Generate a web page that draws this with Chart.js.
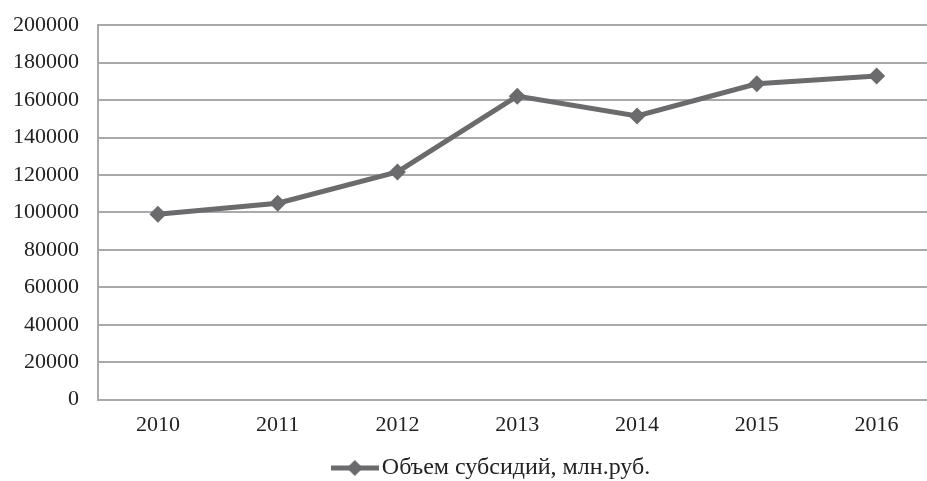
<!DOCTYPE html>
<html>
<head>
<meta charset="utf-8">
<script src="https://cdn.jsdelivr.net/npm/chart.js@4"></script>
<style>
  html, body { margin: 0; padding: 0; background: #fff; overflow: hidden; }
  #wrap { position: relative; top: -7px; width: 945px; height: 497px; }
</style>
</head>
<body>
<div id="wrap"><canvas id="chart"></canvas></div>
<script>
// data
const years = ['2010', '2011', '2012', '2013', '2014', '2015', '2016'];
const subsidies = [99000, 104900, 121600, 162100, 151500, 168700, 172800];
const seriesName = 'Объем субсидий, млн.руб.';
const yTicks = [0, 20000, 40000, 60000, 80000, 100000, 120000, 140000, 160000, 180000, 200000];

const lineColor = '#6b6b6d';
const gridColor = '#a9a9ab';
const fontFamily = '"Liberation Serif", "Times New Roman", serif';

// legend symbol: line with a diamond in the middle
function legendSymbol() {
    const c = document.createElement('canvas');
    c.width = 48;
    c.height = 18;
    const ctx = c.getContext('2d');
    ctx.strokeStyle = lineColor;
    ctx.lineWidth = 5;
    ctx.beginPath();
    ctx.moveTo(0, 9);
    ctx.lineTo(48, 9);
    ctx.stroke();
    ctx.fillStyle = lineColor;
    ctx.beginPath();
    ctx.moveTo(24, 1);
    ctx.lineTo(32, 9);
    ctx.lineTo(24, 17);
    ctx.lineTo(16, 9);
    ctx.closePath();
    ctx.fill();
    return c;
}

// the legend in the picture sits a bit right of centre
const legendShift = {
    id: 'legendShift',
    afterLayout(chart) {
        if (chart.legend) {
            chart.legend.left += 26;
            chart.legend.right += 26;
        }
    }
};

document.addEventListener('DOMContentLoaded', function() {
    const ctx = document.getElementById('chart').getContext('2d');
    const symbol = legendSymbol();

    new Chart(ctx, {
        type: 'line',
        data: {
            labels: years,
            datasets: [{
                label: seriesName,
                data: subsidies,
                borderColor: lineColor,
                backgroundColor: lineColor,
                borderWidth: 5,
                pointStyle: 'rectRot',
                pointRadius: 8.5,
                pointHoverRadius: 8.5,
                pointBackgroundColor: lineColor,
                pointBorderColor: lineColor,
                pointBorderWidth: 0,
                tension: 0
            }]
        },
        options: {
            responsive: true,
            maintainAspectRatio: false,
            animation: false,
            layout: { padding: { top: 0, right: 7, left: 0, bottom: 0 } },
            scales: {
                x: {
                    offset: true,
                    grid: { display: false, drawTicks: false },
                    border: { color: gridColor, width: 2 },
                    ticks: {
                        color: '#222',
                        padding: 12,
                        font: { family: fontFamily, size: 22 }
                    }
                },
                y: {
                    min: 0,
                    max: 200000,
                    afterFit: function(scale) { scale.width = 98; },
                    afterBuildTicks: function(scale) {
                        scale.ticks = yTicks.map(v => ({ value: v }));
                    },
                    grid: { color: gridColor, lineWidth: 2, drawTicks: false },
                    border: { color: gridColor, width: 2 },
                    ticks: {
                        color: '#222',
                        padding: 19,
                        font: { family: fontFamily, size: 22 },
                        callback: function(value) { return String(value); }
                    }
                }
            },
            plugins: {
                tooltip: { enabled: false },
                legend: {
                    position: 'bottom',
                    labels: {
                        color: '#222',
                        usePointStyle: true,
                        pointStyleWidth: 30,
                        padding: 6,
                        font: { family: fontFamily, size: 24 },
                        generateLabels: function(chart) {
                            return [{
                                text: seriesName,
                                pointStyle: symbol,
                                fillStyle: lineColor,
                                strokeStyle: lineColor,
                                lineWidth: 0,
                                datasetIndex: 0,
                                fontColor: '#222'
                            }];
                        }
                    }
                }
            }
        },
        plugins: [legendShift]
    });
});
</script>
</body>
</html>
